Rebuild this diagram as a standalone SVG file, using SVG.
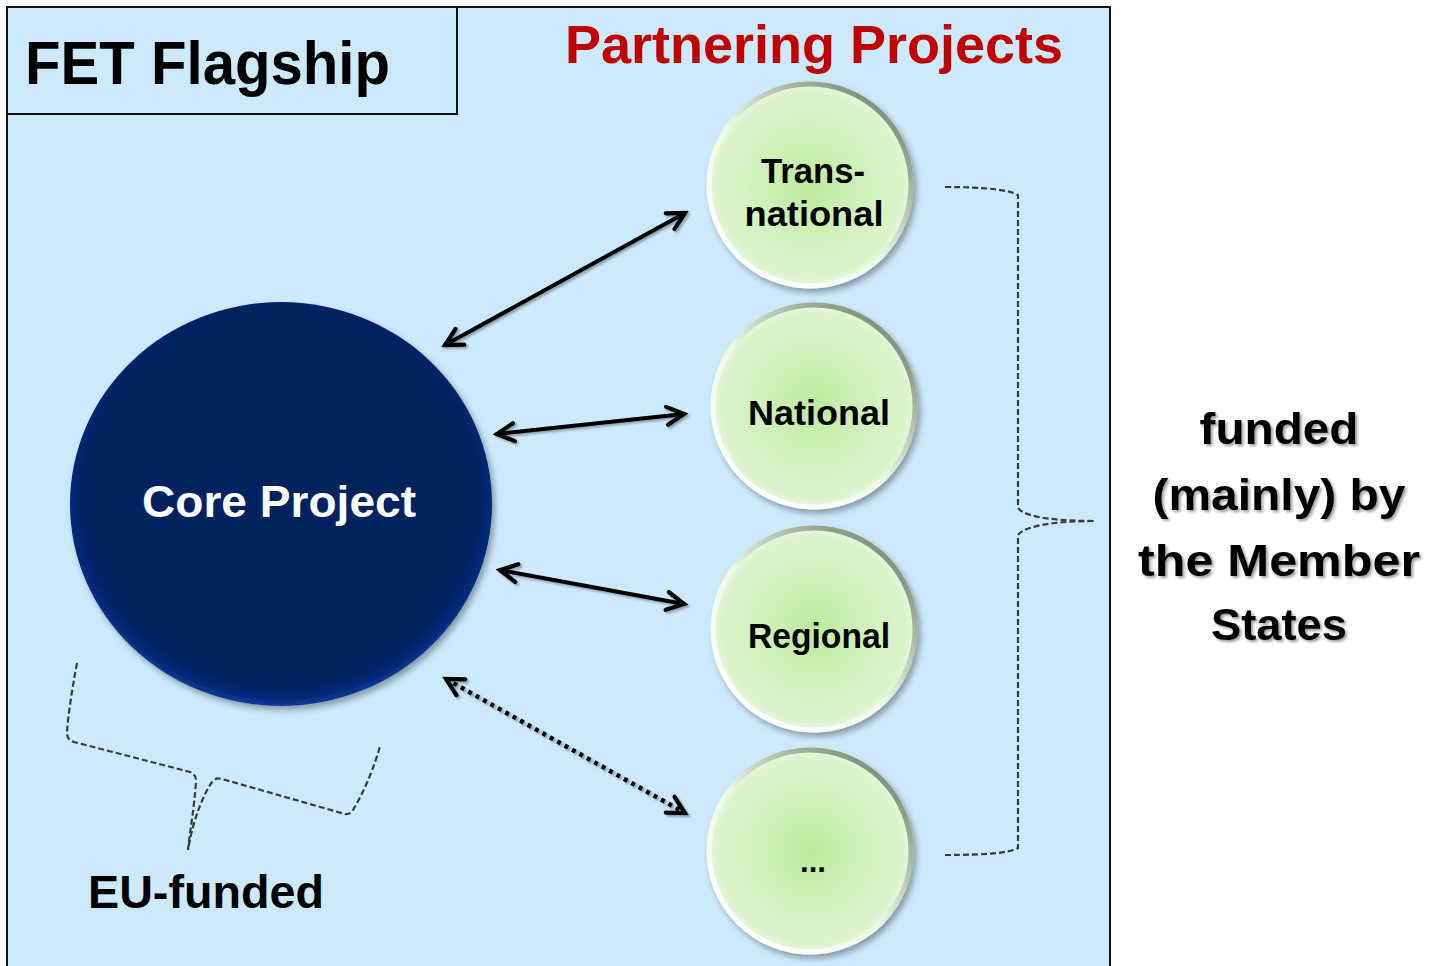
<svg xmlns="http://www.w3.org/2000/svg" width="1431" height="966" viewBox="0 0 1431 966">
<style>
.t{font-family:"Liberation Sans",Arial,sans-serif;font-weight:bold;fill:#000}
.conn{stroke:#000;stroke-width:4;fill:none;stroke-linecap:round}
.brace{stroke:#3a3a3a;stroke-width:2.2;fill:none;stroke-dasharray:6 3}
</style>
<defs>
<radialGradient id="gGreen" cx="0.5" cy="0.5" r="0.5">
<stop offset="0" stop-color="#bdeb9c"/>
<stop offset="0.6" stop-color="#d3f1c0"/>
<stop offset="0.92" stop-color="#dcf4cc"/>
<stop offset="1" stop-color="#e9f8df"/>
</radialGradient>
<linearGradient id="gRim" x1="0.15" y1="0.9" x2="0.85" y2="0.1">
<stop offset="0" stop-color="#ffffff"/>
<stop offset="0.45" stop-color="#eef8e6"/>
<stop offset="1" stop-color="#7f8f77"/>
</linearGradient>
<radialGradient id="gCore" cx="0.5" cy="0.48" r="0.52">
<stop offset="0" stop-color="#01205f"/>
<stop offset="0.9" stop-color="#01205f"/>
<stop offset="0.97" stop-color="#062c7d"/>
<stop offset="1" stop-color="#0d3b99"/>
</radialGradient>
<filter id="sh" x="-20%" y="-20%" width="140%" height="140%">
<feDropShadow dx="3" dy="4" stdDeviation="3" flood-color="#000" flood-opacity="0.35"/>
</filter>
<filter id="tsh" x="-10%" y="-10%" width="120%" height="130%">
<feDropShadow dx="2" dy="2" stdDeviation="1.5" flood-color="#000" flood-opacity="0.4"/>
</filter>
<filter id="lsh" x="-10%" y="-10%" width="120%" height="120%">
<feDropShadow dx="2" dy="2" stdDeviation="1.2" flood-color="#000" flood-opacity="0.3"/>
</filter>
<marker id="arr" viewBox="0 0 24 24" refX="20" refY="12" markerWidth="24" markerHeight="24" markerUnits="userSpaceOnUse" orient="auto-start-reverse">
<path d="M3,3 L20,12 L3,21" fill="none" stroke="#000" stroke-width="4.2" stroke-linecap="round" stroke-linejoin="miter"/>
</marker>
</defs>

<g id="background">
<rect x="0" y="0" width="1431" height="966" fill="#ffffff"/>
<rect x="7" y="7" width="1103" height="970" fill="#cdeafc" stroke="#111" stroke-width="2"/>
</g>

<g id="title">
<rect x="7" y="7" width="450" height="107" fill="none" stroke="#111" stroke-width="2"/>
<text class="t" x="25" y="84" font-size="62" textLength="365" lengthAdjust="spacingAndGlyphs">FET Flagship</text>
</g>

<g id="partnering-title">
<text class="t" x="565" y="63" font-size="54" style="fill:#c00000" textLength="498" lengthAdjust="spacingAndGlyphs">Partnering Projects</text>
</g>

<g id="connectors" filter="url(#lsh)">
<line class="conn" x1="445" y1="345" x2="685" y2="213" marker-start="url(#arr)" marker-end="url(#arr)"/>
<line class="conn" x1="497" y1="434" x2="684" y2="414" marker-start="url(#arr)" marker-end="url(#arr)"/>
<line class="conn" x1="500" y1="570" x2="684" y2="604" marker-start="url(#arr)" marker-end="url(#arr)"/>
<line class="conn" x1="446" y1="679" x2="685" y2="813" marker-start="url(#arr)" marker-end="url(#arr)" style="stroke-width:4.5;stroke-linecap:butt;stroke-dasharray:4 4.5"/>
</g>

<g id="core">
<ellipse cx="281" cy="504" rx="211" ry="202" fill="url(#gCore)" filter="url(#sh)"/>
<text class="t" x="279" y="517" font-size="44" text-anchor="middle" style="fill:#ffffff" textLength="274" lengthAdjust="spacingAndGlyphs">Core Project</text>
</g>

<g id="transnational">
<circle cx="810" cy="185" r="101" fill="url(#gGreen)" stroke="url(#gRim)" stroke-width="5" filter="url(#sh)"/>
<text class="t" x="813" y="183" font-size="35" text-anchor="middle" textLength="104" lengthAdjust="spacingAndGlyphs">Trans-</text>
<text class="t" x="814" y="226" font-size="35" text-anchor="middle" textLength="139" lengthAdjust="spacingAndGlyphs">national</text>
</g>

<g id="national">
<circle cx="814" cy="406" r="101" fill="url(#gGreen)" stroke="url(#gRim)" stroke-width="5" filter="url(#sh)"/>
<text class="t" x="819" y="425" font-size="35" text-anchor="middle" textLength="142" lengthAdjust="spacingAndGlyphs">National</text>
</g>

<g id="regional">
<circle cx="814" cy="629" r="101" fill="url(#gGreen)" stroke="url(#gRim)" stroke-width="5" filter="url(#sh)"/>
<text class="t" x="819" y="648" font-size="35" text-anchor="middle" textLength="142" lengthAdjust="spacingAndGlyphs">Regional</text>
</g>

<g id="more">
<circle cx="810" cy="851" r="101" fill="url(#gGreen)" stroke="url(#gRim)" stroke-width="5" filter="url(#sh)"/>
<text class="t" x="813" y="872" font-size="32" text-anchor="middle" textLength="26" lengthAdjust="spacingAndGlyphs">...</text>
</g>

<g id="brace-eu">
<path class="brace" d="M77,663 C72,690 68,715 67,733 Q67,740 74,742 L190,772 Q197,775 196,782 C194,810 190,830 188,850 C193,820 203,795 212,782 Q216,777 222,779 L345,814 Q350,815 353,810 C365,790 375,765 380,746"/>
<text class="t" x="88" y="908" font-size="46" textLength="236" lengthAdjust="spacingAndGlyphs">EU-funded</text>
</g>

<g id="brace-ms">
<path class="brace" d="M945,187 C985,187 1010,190 1018,195 L1018,508 C1025,518 1060,521 1095,521 C1060,521 1025,525 1018,535 L1018,848 C1010,853 985,855 945,855"/>
</g>

<g id="funded-label" filter="url(#tsh)">
<text class="t" x="1279" y="444" font-size="44" text-anchor="middle" textLength="159" lengthAdjust="spacingAndGlyphs">funded</text>
<text class="t" x="1279" y="510" font-size="44" text-anchor="middle" textLength="253" lengthAdjust="spacingAndGlyphs">(mainly) by</text>
<text class="t" x="1279" y="576" font-size="44" text-anchor="middle" textLength="282" lengthAdjust="spacingAndGlyphs">the Member</text>
<text class="t" x="1279" y="640" font-size="44" text-anchor="middle" textLength="136" lengthAdjust="spacingAndGlyphs">States</text>
</g>
</svg>
